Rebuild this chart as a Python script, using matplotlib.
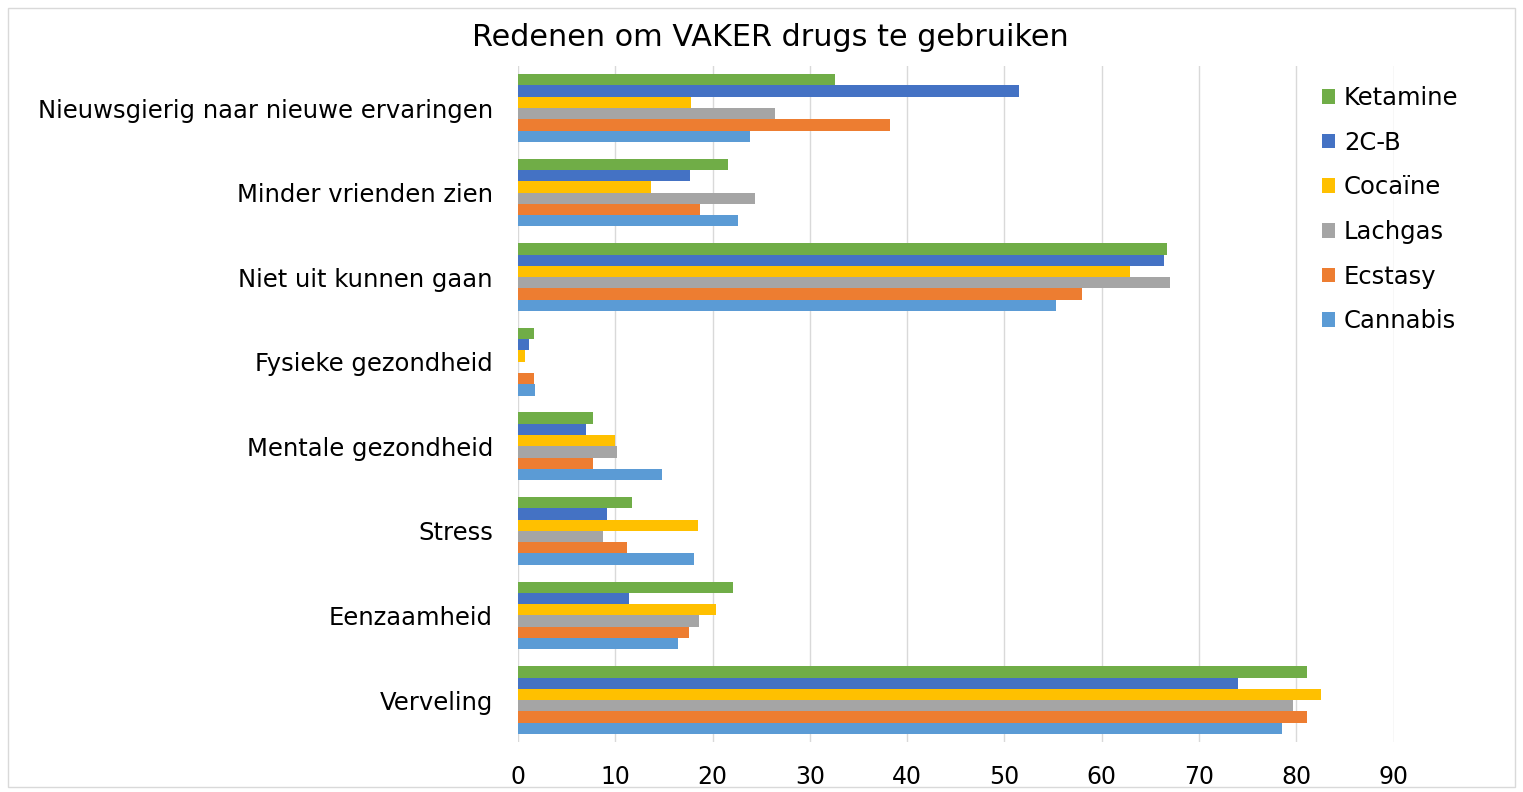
import numpy as np
import matplotlib.pyplot as plt
from matplotlib.patches import Rectangle

# categories listed bottom -> top (barh draws from y=0 upwards)
categories = ['Verveling', 'Eenzaamheid', 'Stress', 'Mentale gezondheid',
              'Fysieke gezondheid', 'Niet uit kunnen gaan', 'Minder vrienden zien',
              'Nieuwsgierig naar nieuwe ervaringen']

# series listed bottom -> top inside each group
series = ['Cannabis', 'Ecstasy', 'Lachgas', 'Cocaïne', '2C-B', 'Ketamine']
colors = ['#5B9BD5', '#ED7D31', '#A5A5A5', '#FFC000', '#4472C4', '#70AD47']

cannabis = [78.5, 16.4, 18.1, 14.85, 1.75, 55.3, 22.6, 23.8]
ecstasy  = [81.1, 17.6, 11.2, 7.75, 1.65, 58.0, 18.7, 38.2]
lachgas  = [79.7, 18.65, 8.7, 10.2, 0.0, 67.0, 24.4, 26.4]
cocaine  = [82.5, 20.4, 18.5, 10.0, 0.7, 62.9, 13.7, 17.8]
twocb    = [74.0, 11.4, 9.2, 7.0, 1.1, 66.4, 17.7, 51.5]
ketamine = [81.1, 22.1, 11.7, 7.75, 1.6, 66.7, 21.6, 32.6]
values = [cannabis, ecstasy, lachgas, cocaine, twocb, ketamine]

fig = plt.figure(figsize=(15.23, 7.92), dpi=100)
ax = fig.add_axes([0.3401, 0.0627, 0.5752, 0.8543])

y = np.arange(len(categories))
h = 0.8 / len(series)
bars = []
for i, (name, vals) in enumerate(zip(series, values)):
    b = ax.barh(y + (i - 2.5) * h, vals, height=h, color=colors[i], label=name, zorder=3)
    bars.append(b)

ax.set_xlim(0, 90.05)
ax.set_ylim(-0.5, len(categories) - 0.5)
ax.set_xticks(np.arange(0, 91, 10))
ax.set_yticks(y)
ax.set_yticklabels(categories)
ax.tick_params(axis='x', length=0, pad=16, labelsize=17)
ax.tick_params(axis='y', length=0, pad=18, labelsize=17.5)
ax.grid(axis='x', color='#d9d9d9', linewidth=1, zorder=0)
for s in ax.spines.values():
    s.set_visible(False)

# legend: Ketamine on top
leg = ax.legend(bars[::-1], series[::-1], loc='upper left',
                bbox_to_anchor=(1300 / 1523, 1 - 64 / 792), bbox_transform=fig.transFigure,
                frameon=False, fontsize=17.5, handlelength=0.55, handleheight=0.55,
                handletextpad=0.35, labelspacing=0.85)

fig.text(770 / 1523, 1 - 38 / 792, 'Redenen om VAKER drugs te gebruiken',
         ha='center', va='center', fontsize=21.8)

fig.patches.append(Rectangle((8 / 1523, 5 / 792), 1507 / 1523, 779 / 792,
                             transform=fig.transFigure, fill=False,
                             edgecolor='#d9d9d9', linewidth=1))

fig.savefig('out.png', dpi=100)
